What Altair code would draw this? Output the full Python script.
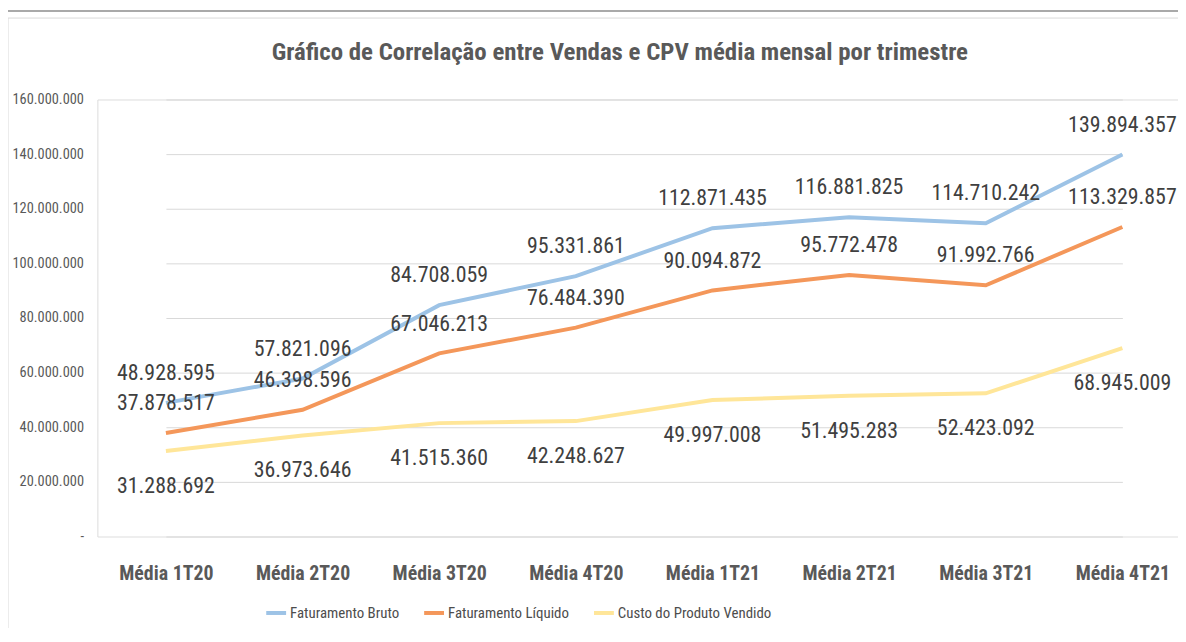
import altair as alt
import pandas as pd

categories = ["Média 1T20", "Média 2T20", "Média 3T20", "Média 4T20",
              "Média 1T21", "Média 2T21", "Média 3T21", "Média 4T21"]
series_names = ["Faturamento Bruto", "Faturamento Líquido", "Custo do Produto Vendido"]
bruto = [48928595, 57821096, 84708059, 95331861, 112871435, 116881825, 114710242, 139894357]
liquido = [37878517, 46398596, 67046213, 76484390, 90094872, 95772478, 91992766, 113329857]
cpv = [31288692, 36973646, 41515360, 42248627, 49997008, 51495283, 52423092, 68945009]
y_ticks = [0, 20000000, 40000000, 60000000, 80000000, 100000000, 120000000, 140000000, 160000000]
colors = ["#9DC3E6", "#F4975A", "#FFE699"]

rows = []
for name, vals in zip(series_names, [bruto, liquido, cpv]):
    for c, v in zip(categories, vals):
        rows.append({"serie": name, "cat": c, "valor": v,
                     "rotulo": f"{v:,}".replace(",", ".")})
df = pd.DataFrame(rows)

FONT = "Liberation Sans Narrow, Roboto Condensed, Arial Narrow, sans-serif"
GRAY = "#595959"

x = alt.X("cat:N", sort=categories, title=None,
          scale=alt.Scale(type="point", range=[69, 1032], padding=0),
          axis=alt.Axis(domain=False, ticks=False, grid=False, labelAngle=0,
                        labelFont=FONT, labelFontSize=20, labelFontWeight="bold",
                        labelColor=GRAY, labelPadding=27))
y = alt.Y("valor:Q", title=None,
          scale=alt.Scale(domain=[0, 160000000], nice=False),
          axis=alt.Axis(values=y_ticks, domain=False, ticks=False,
                        gridColor="#D9D9D9", gridWidth=1,
                        labelFont=FONT, labelFontSize=14.5, labelColor=GRAY,
                        labelPadding=14,
                        labelExpr="datum.value == 0 ? '-  ' : replace(format(datum.value, ','), regexp(',', 'g'), '.')"))
color = alt.Color("serie:N", sort=series_names,
                  scale=alt.Scale(domain=series_names, range=colors),
                  legend=alt.Legend(title=None, orient="none", direction="horizontal",
                                    legendX=168, legendY=505,
                                    symbolType="stroke", symbolSize=400,
                                    symbolStrokeWidth=4, labelOffset=2,
                                    columnPadding=17, labelLimit=0,
                                    labelFont=FONT, labelFontSize=15,
                                    labelColor="#4D4D4D"))

base = alt.Chart(df)
lines = base.mark_line(strokeWidth=4).encode(x=x, y=y, color=color,
                                              detail="serie:N")
above = base.transform_filter(
    alt.datum.serie != "Custo do Produto Vendido"
).mark_text(font=FONT, fontSize=22, color="#404040", dy=-30, baseline="middle").encode(
    x=x, y=y, text="rotulo:N")
below = base.transform_filter(
    alt.datum.serie == "Custo do Produto Vendido"
).mark_text(font=FONT, fontSize=22, color="#404040", dy=35, baseline="middle").encode(
    x=x, y=y, text="rotulo:N")

frame_top = alt.Chart(pd.DataFrame({"k": [0]})).mark_rule(color="#8C8C8C", strokeWidth=1.5).encode(
    x=alt.value(-90), x2=alt.value(1088), y=alt.value(-89))
frame_top2 = alt.Chart(pd.DataFrame({"k": [0]})).mark_rule(color="#D9D9D9", strokeWidth=1).encode(
    x=alt.value(-90), x2=alt.value(1088), y=alt.value(-82))
frame_left = alt.Chart(pd.DataFrame({"k": [0]})).mark_rule(color="#D9D9D9", strokeWidth=1).encode(
    x=alt.value(-90), y=alt.value(-82), y2=alt.value(540))

chart = alt.layer(frame_top, frame_top2, frame_left, lines, above, below).properties(
    width=1088, height=440,
    title=alt.TitleParams("Gráfico de Correlação entre Vendas e CPV média mensal por trimestre",
                          font=FONT, fontSize=25, fontWeight="bold", color=GRAY,
                          anchor="middle", dx=-18, offset=-55),
    autosize=alt.AutoSizeParams(type="none"),
    padding={"left": 90, "top": 90, "right": 0, "bottom": 90},
).configure_view(stroke=None).configure(background="white")

chart.save("out.html", embed_options={"renderer": "svg", "actions": False})
